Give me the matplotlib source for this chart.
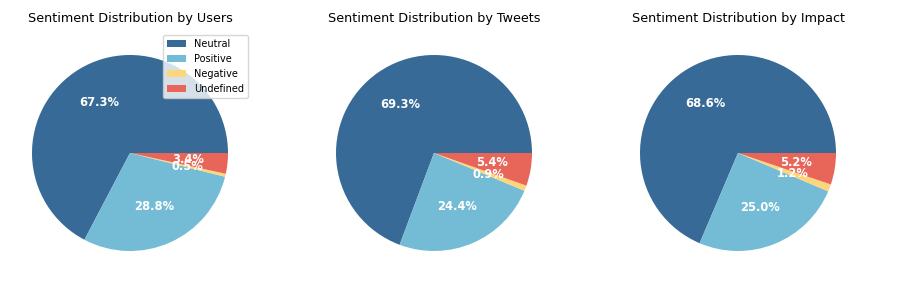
import matplotlib
matplotlib.use('Agg')
import matplotlib.pyplot as plt

labels = ['Neutral', 'Positive', 'Negative', 'Undefined']
colors = ['#376a96', '#74bcd6', '#fdd57a', '#e8655a']

users = [67.3, 28.8, 0.5, 3.4]
tweets = [69.3, 24.4, 0.9, 5.4]
impact = [68.6, 25.0, 1.2, 5.2]

titles = ['Sentiment Distribution by Users',
          'Sentiment Distribution by Tweets',
          'Sentiment Distribution by Impact']

W, H = 913, 305
fig = plt.figure(figsize=(W / 100, H / 100), dpi=100)

size = 245
centers = [130, 434, 738]
cy = 153

for i, (vals, title) in enumerate(zip([users, tweets, impact], titles)):
    ax = fig.add_axes([(centers[i] - size / 2) / W, (H - cy - size / 2) / H,
                       size / W, size / H])
    wedges, texts, autotexts = ax.pie(vals, colors=colors, autopct='%1.1f%%',
                                      textprops={'color': 'white', 'fontsize': 8.3,
                                                 'fontweight': 'bold'})
    ax.set_title(title, fontsize=9.2)
    if i == 0:
        ax.legend(wedges, labels, loc='upper right', fontsize=7)

fig.savefig('out.png', dpi=100)
